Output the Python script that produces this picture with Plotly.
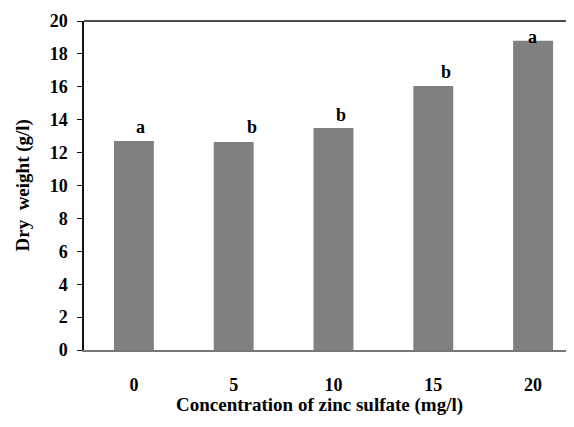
import plotly.graph_objects as go

categories = ["0", "5", "10", "15", "20"]
dry_weight = [12.7, 12.65, 13.5, 16.05, 18.8]
letters = ["a", "b", "b", "b", "a"]

# small visual offsets of the significance letters (px)
letter_xshift = [7, 18, 8, 13, -1]
letter_yshift = [14, 15, 13, 14, 4]

FONT = "Liberation Serif, Times New Roman, serif"

fig = go.Figure()
fig.add_trace(go.Bar(
    x=list(range(len(categories))),
    y=dry_weight,
    marker=dict(color="#808080", line=dict(width=0)),
    width=0.4,
))

for i, (v, t) in enumerate(zip(dry_weight, letters)):
    fig.add_annotation(
        x=i, y=v, text=t, showarrow=False,
        xshift=letter_xshift[i], yshift=letter_yshift[i],
        font=dict(family=FONT, size=18, color="black", weight="bold"),
    )

# axis titles
fig.add_annotation(xref="paper", yref="paper", x=0.48, y=-0.167,
                   text="Concentration of zinc sulfate (mg/l)", showarrow=False,
                   xanchor="center", yanchor="middle",
                   font=dict(family=FONT, size=19, color="black", weight="bold"))
fig.add_annotation(xref="paper", yref="paper", x=-0.1265, y=0.5,
                   text="Dry  weight (g/l)", showarrow=False, textangle=-90,
                   xanchor="center", yanchor="middle",
                   font=dict(family=FONT, size=19, color="black", weight="bold"))

# top frame line
fig.add_shape(type="line", xref="paper", yref="y domain", x0=0, x1=1, y0=1, y1=1,
              line=dict(color="#111111", width=1.5))

tickfont = dict(family=FONT, size=18, color="black", weight="bold")

fig.update_layout(
    width=566, height=419,
    margin=dict(l=76, r=0, t=13, b=77, autoexpand=False),
    paper_bgcolor="white", plot_bgcolor="white",
    showlegend=False,
    font=dict(family=FONT, color="black"),
    xaxis=dict(
        tickmode="array",
        tickvals=list(range(len(categories))),
        ticktext=categories,
        range=[-0.5, 4.41],
        showline=True, linecolor="#777777", linewidth=1.5,
        ticks="", showgrid=False, zeroline=False,
        tickfont=tickfont, automargin=False,
        ticklabelstandoff=18,
    ),
    yaxis=dict(
        range=[0, 20], dtick=2,
        showline=True, linecolor="#111111", linewidth=1.5,
        ticks="outside", ticklen=5, tickcolor="#111111", tickwidth=1,
        showgrid=False, zeroline=False,
        tickfont=tickfont, automargin=False,
        ticklabelstandoff=6,
    ),
)

fig.write_html("out.html")
